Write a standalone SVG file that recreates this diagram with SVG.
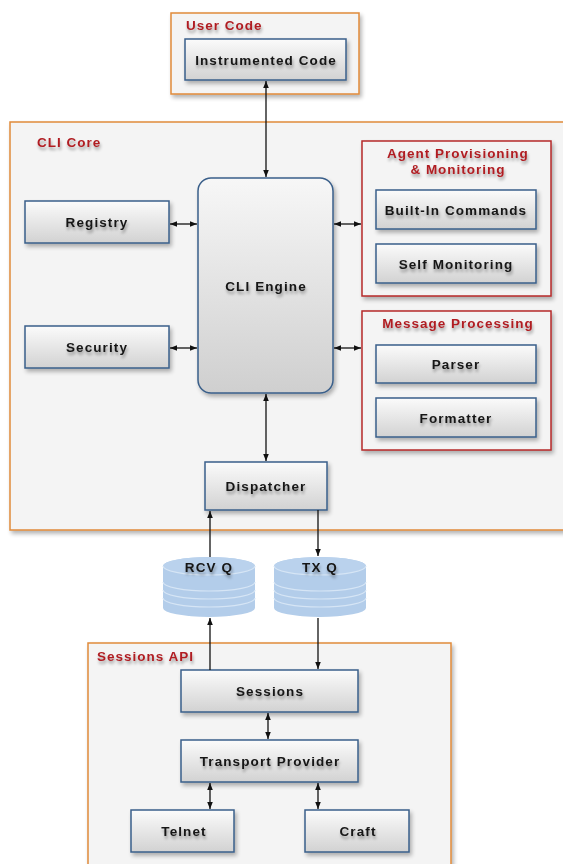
<svg xmlns="http://www.w3.org/2000/svg" width="563" height="864" viewBox="0 0 563 864">
<defs>
<linearGradient id="boxg" x1="0" y1="0" x2="0" y2="1">
<stop offset="0" stop-color="#fbfbfb"/>
<stop offset="1" stop-color="#d2d2d2"/>
</linearGradient>
<linearGradient id="engg" x1="0" y1="0" x2="0" y2="1">
<stop offset="0" stop-color="#f7f7f7"/>
<stop offset="1" stop-color="#cfcfcf"/>
</linearGradient>
<filter id="sh" x="-10%" y="-10%" width="130%" height="140%">
<feGaussianBlur in="SourceAlpha" stdDeviation="2"/>
<feOffset dx="2" dy="3" result="b"/>
<feComponentTransfer><feFuncA type="linear" slope="0.3"/></feComponentTransfer>
<feMerge><feMergeNode/><feMergeNode in="SourceGraphic"/></feMerge>
</filter>
<filter id="tsh" x="-10%" y="-30%" width="130%" height="180%">
<feGaussianBlur in="SourceAlpha" stdDeviation="1.8"/>
<feOffset dx="1" dy="3"/>
<feComponentTransfer><feFuncA type="linear" slope="0.35"/></feComponentTransfer>
<feMerge><feMergeNode/><feMergeNode in="SourceGraphic"/></feMerge>
</filter>
<marker id="ah" viewBox="0 0 10 10" refX="10" refY="5" markerWidth="7" markerHeight="7" orient="auto-start-reverse" markerUnits="userSpaceOnUse">
<path d="M0,1 L10,5 L0,9 Z" fill="#111"/>
</marker>
</defs>
<style>
.cont{fill:#f4f4f4;stroke:#e08a3a;stroke-width:1.5;}
.sub{fill:#f4f4f4;stroke:#b52a2a;stroke-width:1.5;}
.box{fill:url(#boxg);stroke:#3a5f8a;stroke-width:1.5;}
.lbl{font-family:"Liberation Sans",Arial,sans-serif;font-weight:bold;font-size:13.5px;fill:#151515;letter-spacing:1.1px;text-anchor:middle;}
.clbl{font-family:"Liberation Sans",Arial,sans-serif;font-weight:bold;font-size:13.5px;fill:#b01e23;letter-spacing:1px;}
.ln{stroke:#111;stroke-width:1.3;fill:none;}
.cyl{fill:#b3cdea;}
.stripe{stroke:#d6e5f5;stroke-width:1.2;fill:none;}
</style>
<rect width="563" height="864" fill="#ffffff"/>

<g id="user-code">
<rect class="cont" x="171" y="13" width="188" height="81" filter="url(#sh)"/>
<text class="clbl" x="186" y="30" filter="url(#tsh)">User Code</text>
</g>
<g id="instrumented-code">
<rect class="box" x="185" y="39" width="161" height="41" filter="url(#sh)"/>
<text class="lbl" x="266" y="65" filter="url(#tsh)">Instrumented Code</text>
</g>

<g id="cli-core">
<rect class="cont" x="10" y="122" width="570" height="408" filter="url(#sh)"/>
<text class="clbl" x="37" y="147" filter="url(#tsh)">CLI Core</text>
</g>
<g id="registry">
<rect class="box" x="25" y="201" width="144" height="42" filter="url(#sh)"/>
<text class="lbl" x="97" y="227" filter="url(#tsh)">Registry</text>
</g>
<g id="security">
<rect class="box" x="25" y="326" width="144" height="42" filter="url(#sh)"/>
<text class="lbl" x="97" y="352" filter="url(#tsh)">Security</text>
</g>
<g id="cli-engine">
<rect x="198" y="178" width="135" height="215" rx="13" ry="13" fill="url(#engg)" stroke="#3a5f8a" stroke-width="1.5" filter="url(#sh)"/>
<text class="lbl" x="266" y="291" filter="url(#tsh)">CLI Engine</text>
</g>
<g id="agent-provisioning">
<rect class="sub" x="362" y="141" width="189" height="155" filter="url(#sh)"/>
<text class="clbl" x="458" y="158" text-anchor="middle" filter="url(#tsh)">Agent Provisioning</text>
<text class="clbl" x="458" y="174" text-anchor="middle" filter="url(#tsh)">&amp; Monitoring</text>
</g>
<g id="built-in-commands">
<rect class="box" x="376" y="190" width="160" height="39" filter="url(#sh)"/>
<text class="lbl" x="456" y="215" filter="url(#tsh)">Built-In Commands</text>
</g>
<g id="self-monitoring">
<rect class="box" x="376" y="244" width="160" height="39" filter="url(#sh)"/>
<text class="lbl" x="456" y="269" filter="url(#tsh)">Self Monitoring</text>
</g>
<g id="message-processing">
<rect class="sub" x="362" y="311" width="189" height="139" filter="url(#sh)"/>
<text class="clbl" x="458" y="328" text-anchor="middle" filter="url(#tsh)">Message Processing</text>
</g>
<g id="parser">
<rect class="box" x="376" y="345" width="160" height="38" filter="url(#sh)"/>
<text class="lbl" x="456" y="369" filter="url(#tsh)">Parser</text>
</g>
<g id="formatter">
<rect class="box" x="376" y="398" width="160" height="39" filter="url(#sh)"/>
<text class="lbl" x="456" y="423" filter="url(#tsh)">Formatter</text>
</g>
<g id="dispatcher">
<rect class="box" x="205" y="462" width="122" height="48" filter="url(#sh)"/>
<text class="lbl" x="266" y="491" filter="url(#tsh)">Dispatcher</text>
</g>

<g id="rcv-q">
<path class="cyl" d="M163,566 A46,9 0 0 1 255,566 L255,608 A46,9 0 0 1 163,608 Z"/>
<path class="stripe" d="M163,582 A46,9 0 0 0 255,582 M163,590 A46,9 0 0 0 255,590 M163,598 A46,9 0 0 0 255,598"/>
<ellipse cx="209" cy="566" rx="46" ry="9" fill="#bad2ed"/>
<path class="stripe" d="M163,566 A46,9 0 0 0 255,566"/>
<text class="lbl" x="209" y="572" filter="url(#tsh)">RCV Q</text>
</g>
<g id="tx-q">
<path class="cyl" d="M274,566 A46,9 0 0 1 366,566 L366,608 A46,9 0 0 1 274,608 Z"/>
<path class="stripe" d="M274,582 A46,9 0 0 0 366,582 M274,590 A46,9 0 0 0 366,590 M274,598 A46,9 0 0 0 366,598"/>
<ellipse cx="320" cy="566" rx="46" ry="9" fill="#bad2ed"/>
<path class="stripe" d="M274,566 A46,9 0 0 0 366,566"/>
<text class="lbl" x="320" y="572" filter="url(#tsh)">TX Q</text>
</g>

<g id="sessions-api">
<rect class="cont" x="88" y="643" width="363" height="240" filter="url(#sh)"/>
<text class="clbl" x="97" y="661" filter="url(#tsh)">Sessions API</text>
</g>
<g id="sessions">
<rect class="box" x="181" y="670" width="177" height="42" filter="url(#sh)"/>
<text class="lbl" x="270" y="696" filter="url(#tsh)">Sessions</text>
</g>
<g id="transport-provider">
<rect class="box" x="181" y="740" width="177" height="42" filter="url(#sh)"/>
<text class="lbl" x="270" y="766" filter="url(#tsh)">Transport Provider</text>
</g>
<g id="telnet">
<rect class="box" x="131" y="810" width="103" height="42" filter="url(#sh)"/>
<text class="lbl" x="184" y="836" filter="url(#tsh)">Telnet</text>
</g>
<g id="craft">
<rect class="box" x="305" y="810" width="104" height="42" filter="url(#sh)"/>
<text class="lbl" x="358" y="836" filter="url(#tsh)">Craft</text>
</g>

<g id="connectors">
<line class="ln" x1="266" y1="81" x2="266" y2="177" marker-start="url(#ah)" marker-end="url(#ah)"/>
<line class="ln" x1="170" y1="224" x2="197" y2="224" marker-start="url(#ah)" marker-end="url(#ah)"/>
<line class="ln" x1="170" y1="348" x2="197" y2="348" marker-start="url(#ah)" marker-end="url(#ah)"/>
<line class="ln" x1="334" y1="224" x2="361" y2="224" marker-start="url(#ah)" marker-end="url(#ah)"/>
<line class="ln" x1="334" y1="348" x2="361" y2="348" marker-start="url(#ah)" marker-end="url(#ah)"/>
<line class="ln" x1="266" y1="394" x2="266" y2="461" marker-start="url(#ah)" marker-end="url(#ah)"/>
<line class="ln" x1="210" y1="557" x2="210" y2="511" marker-end="url(#ah)"/>
<line class="ln" x1="318" y1="510" x2="318" y2="556" marker-end="url(#ah)"/>
<line class="ln" x1="210" y1="670" x2="210" y2="618" marker-end="url(#ah)"/>
<line class="ln" x1="318" y1="618" x2="318" y2="669" marker-end="url(#ah)"/>
<line class="ln" x1="268" y1="713" x2="268" y2="739" marker-start="url(#ah)" marker-end="url(#ah)"/>
<line class="ln" x1="210" y1="783" x2="210" y2="809" marker-start="url(#ah)" marker-end="url(#ah)"/>
<line class="ln" x1="318" y1="783" x2="318" y2="809" marker-start="url(#ah)" marker-end="url(#ah)"/>
</g>
</svg>
